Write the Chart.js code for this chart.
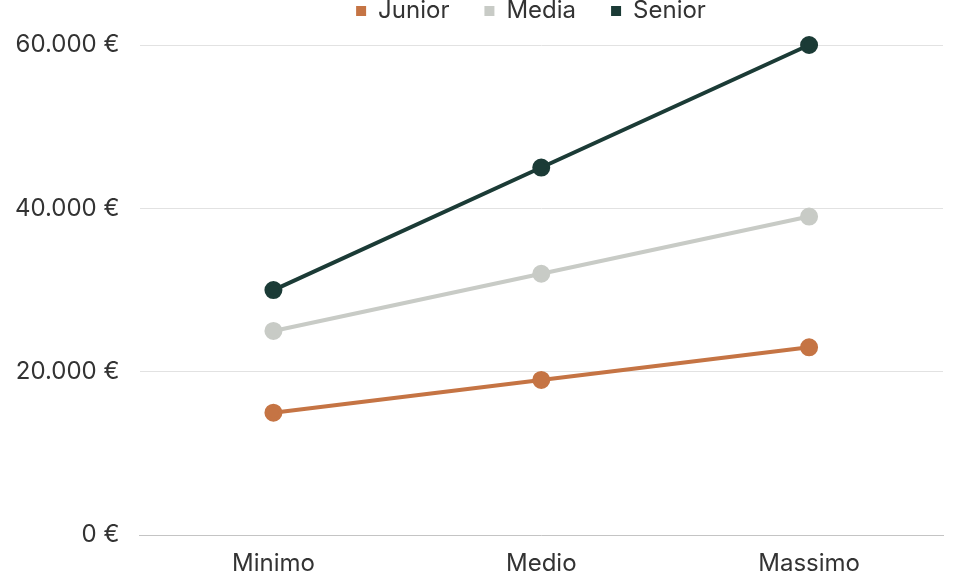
<!DOCTYPE html>
<html>
<head>
<meta charset="utf-8">
<script src="https://cdn.jsdelivr.net/npm/chart.js@4/dist/chart.umd.min.js"></script>
<style>
  html, body { margin: 0; padding: 0; background: #fff; }
  #wrap { width: 960px; height: 576px; }
</style>
</head>
<body>
<div id="wrap"><canvas id="salaryChart"></canvas></div>
<script>
let labels = ["Minimo", "Medio", "Massimo"];
let junior = [15000, 19000, 23000];
let media = [25000, 32000, 39000];
let senior = [30000, 45000, 60000];
let yTicks = [0, 20000, 40000, 60000];

let fontFamily = "Inter, 'Noto Sans', sans-serif";

function euro(v) {
    return String(v).replace(/\B(?=(\d{3})+(?!\d))/g, ".") + " €";
}

function series(name, data, color) {
    return {
        label: name,
        data: data,
        borderColor: color,
        backgroundColor: color,
        pointBackgroundColor: color,
        pointBorderColor: color,
        borderWidth: 4,
        pointRadius: 7,
        pointHoverRadius: 7,
        tension: 0,
        clip: false
    };
}

// legend sits high and a bit right, plot starts lower
let legendSpace = {
    id: "legendSpace",
    beforeInit(chart) {
        let fit = chart.legend.fit;
        chart.legend.fit = function () {
            fit.bind(chart.legend)();
            this.height += 13;
        };
    },
    afterLayout(chart) {
        chart.legend.left += 62;
        chart.legend.right += 62;
        chart.legend.top += 1;
        chart.legend.bottom += 1;
    }
};

let ctx = document.getElementById("salaryChart").getContext("2d");
let salaryChart = new Chart(ctx, {
    type: "line",
    data: {
        labels: labels,
        datasets: [
            series("Junior", junior, "#c57444"),
            series("Media", media, "#c8cbc6"),
            series("Senior", senior, "#1b3b36")
        ]
    },
    plugins: [legendSpace],
    options: {
        responsive: true,
        maintainAspectRatio: false,
        animation: false,
        layout: { padding: { top: -37, right: 17, bottom: -8, left: -5 } },
        plugins: {
            legend: {
                position: "top",
                labels: {
                    usePointStyle: true,
                    pointStyle: "rect",
                    boxWidth: 10,
                    boxHeight: 10,
                    padding: 35,
                    color: "#333",
                    font: { family: fontFamily, size: 24 },
                    generateLabels: function (chart) {
                        let items = Chart.defaults.plugins.legend.labels.generateLabels(chart);
                        items.forEach(it => { it.lineWidth = 0; });
                        return items;
                    }
                }
            },
            tooltip: { enabled: false }
        },
        scales: {
            x: {
                offset: true,
                grid: { display: false },
                border: { display: true, color: "#c4c4c4" },
                ticks: {
                    color: "#333",
                    padding: 6,
                    font: { family: fontFamily, size: 24 }
                }
            },
            y: {
                min: 0,
                max: 60000,
                afterBuildTicks: function (axis) {
                    axis.ticks = yTicks.map(v => ({ value: v }));
                },
                grid: { color: "#e2e2e2", drawTicks: false },
                border: { display: false },
                ticks: {
                    color: "#333",
                    padding: 20,
                    font: { family: fontFamily, size: 24 },
                    callback: function (v) { return euro(v); }
                }
            }
        }
    }
});
</script>
</body>
</html>
